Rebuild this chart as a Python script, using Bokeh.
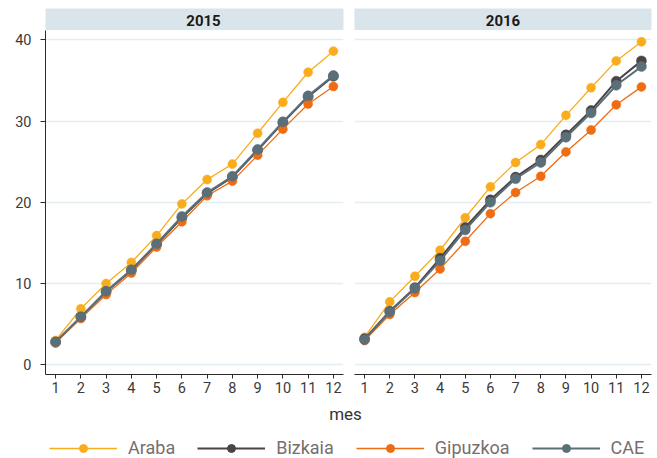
from bokeh.plotting import figure
from bokeh.layouts import column, row
from bokeh.models import (Range1d, FixedTicker, Legend, LegendItem, Label)
from bokeh.core.properties import value
from bokeh.embed import file_html
from bokeh.resources import INLINE

# ---------------- data ----------------
months = [1, 2, 3, 4, 5, 6, 7, 8, 9, 10, 11, 12]
years = ["2015", "2016"]
series = ["Araba", "Bizkaia", "Gipuzkoa", "CAE"]

araba_2015 = [3.0, 6.9, 10.0, 12.6, 15.9, 19.8, 22.8, 24.7, 28.5, 32.3, 36.0, 38.6]
bizkaia_2015 = [2.8, 5.9, 9.0, 11.6, 14.8, 18.1, 21.1, 23.1, 26.4, 29.8, 33.0, 35.5]
gipuzkoa_2015 = [2.7, 5.7, 8.65, 11.3, 14.5, 17.6, 20.8, 22.6, 25.8, 29.0, 32.1, 34.25]
cae_2015 = [2.8, 5.9, 9.06, 11.7, 14.9, 18.25, 21.2, 23.2, 26.5, 29.9, 33.1, 35.6]

araba_2016 = [3.4, 7.75, 10.9, 14.1, 18.1, 21.9, 24.9, 27.1, 30.7, 34.1, 37.4, 39.75]
bizkaia_2016 = [3.2, 6.6, 9.5, 13.1, 16.9, 20.3, 23.1, 25.2, 28.3, 31.3, 34.9, 37.4]
gipuzkoa_2016 = [3.0, 6.2, 8.9, 11.8, 15.2, 18.6, 21.2, 23.2, 26.2, 28.9, 32.0, 34.2]
cae_2016 = [3.1, 6.5, 9.4, 12.8, 16.6, 20.0, 22.9, 24.9, 28.0, 31.0, 34.4, 36.7]

y_ticks = [0, 10, 20, 30, 40]
x_label = "mes"

data = {
    "2015": [araba_2015, bizkaia_2015, gipuzkoa_2015, cae_2015],
    "2016": [araba_2016, bizkaia_2016, gipuzkoa_2016, cae_2016],
}

# ---------------- styles ----------------
colors = ["#F9AD1C", "#4A4447", "#EE6C12", "#5B6F79"]
line_widths = [1.3, 2.0, 1.3, 2.0]
dot_sizes = [9, 10, 9, 10]
FONT = "Roboto"
STRIP = "#DAE5EB"
GRID = "#E4EDF2"
AXIS = "#2b2b2b"
TICKTXT = "#3a3a3a"

XR = (0.6, 12.4)
YR = (-1.19, 41.14)

def strip_fig(year, width, bl, br, xoff):
    s = figure(width=width, height=30, x_range=Range1d(0, 1), y_range=Range1d(0, 1),
               min_border_left=bl, min_border_right=br, min_border_top=8, min_border_bottom=0,
               x_axis_location=None, y_axis_location=None, toolbar_location=None,
               output_backend="svg", background_fill_color=STRIP,
               border_fill_color="white", outline_line_color=None)
    s.grid.visible = False
    s.text(x=[0.5], y=[0.5], text=[year], text_align="center", text_baseline="middle",
           text_font=value(FONT), text_font_style="bold", text_font_size="15px",
           text_color="#1a1a1a", x_offset=xoff, y_offset=1)
    return s

def panel(year, width, bl, br, show_y):
    p = figure(width=width, height=370, x_range=Range1d(*XR), y_range=Range1d(*YR),
               min_border_left=bl, min_border_right=br, min_border_top=0, min_border_bottom=26,
               y_axis_location="left" if show_y else None,
               toolbar_location=None, output_backend="svg",
               outline_line_color=None, background_fill_color="white",
               border_fill_color="white")
    p.xgrid.visible = False
    p.ygrid.ticker = FixedTicker(ticks=y_ticks)
    p.ygrid.grid_line_color = GRID
    p.ygrid.grid_line_width = 1.3

    xa = p.xaxis[0]
    xa.ticker = FixedTicker(ticks=months)
    xa.axis_line_color = AXIS
    xa.major_tick_line_color = AXIS
    xa.major_tick_out = 4
    xa.major_tick_in = 0
    xa.minor_tick_line_color = None
    xa.major_label_standoff = 3
    xa.major_label_text_font = FONT
    xa.major_label_text_font_size = "14.5px"
    xa.major_label_text_color = TICKTXT
    if show_y:
        ya = p.yaxis[0]
        ya.ticker = FixedTicker(ticks=y_ticks)
        ya.axis_line_color = AXIS
        ya.major_tick_line_color = AXIS
        ya.major_tick_out = 5
        ya.major_tick_in = 0
        ya.minor_tick_line_color = None
        ya.major_label_standoff = 9
        ya.major_label_text_font = FONT
        ya.major_label_text_font_size = "14.5px"
        ya.major_label_text_color = TICKTXT

    for vals, c, lw, sz in zip(data[year], colors, line_widths, dot_sizes):
        p.line(months, vals, line_color=c, line_width=lw)
        p.scatter(months, vals, size=sz, fill_color=c, line_color=c, line_width=0.5)
    return p

s1 = strip_fig(years[0], 348, 45, 5, 9)
s2 = strip_fig(years[1], 305, 6, 2, 0)
p1 = panel(years[0], 348, 45, 5, True)
p2 = panel(years[1], 305, 6, 2, False)

# bottom: axis title + legend
pb = figure(width=653, height=58, x_range=Range1d(0, 1), y_range=Range1d(0, 1),
            min_border_left=0, min_border_right=0, min_border_top=0, min_border_bottom=0,
            x_axis_location=None, y_axis_location=None, toolbar_location=None,
            output_backend="svg", outline_line_color=None, border_fill_color="white")
pb.grid.visible = False
items = []
for name, vals, c, lw in zip(series, data["2015"], colors, line_widths):
    lr = pb.line(months, vals, line_color=c, line_width=lw, visible=False)
    sr = pb.scatter(months, vals, size=8, fill_color=c, line_color=c, visible=False)
    items.append(LegendItem(label=name, renderers=[lr, sr]))
legend = Legend(items=items, orientation="horizontal", location=(49, 0),
                glyph_width=68, glyph_height=20, label_standoff=11, spacing=22,
                padding=0, margin=0, border_line_color=None, background_fill_alpha=0,
                inactive_fill_alpha=0,
                label_text_font=FONT, label_text_font_size="18px",
                label_text_color="#776e6e")
pb.add_layout(legend, "center")
pb.add_layout(Label(x=345, y=45, x_units="screen", y_units="screen", text=x_label,
                    text_align="center", text_baseline="middle", text_font=FONT,
                    text_font_size="17px", text_color="#333333"))

layout = column(row(s1, s2), row(p1, p2), pb)
open("out.html", "w").write(file_html(layout, INLINE))
